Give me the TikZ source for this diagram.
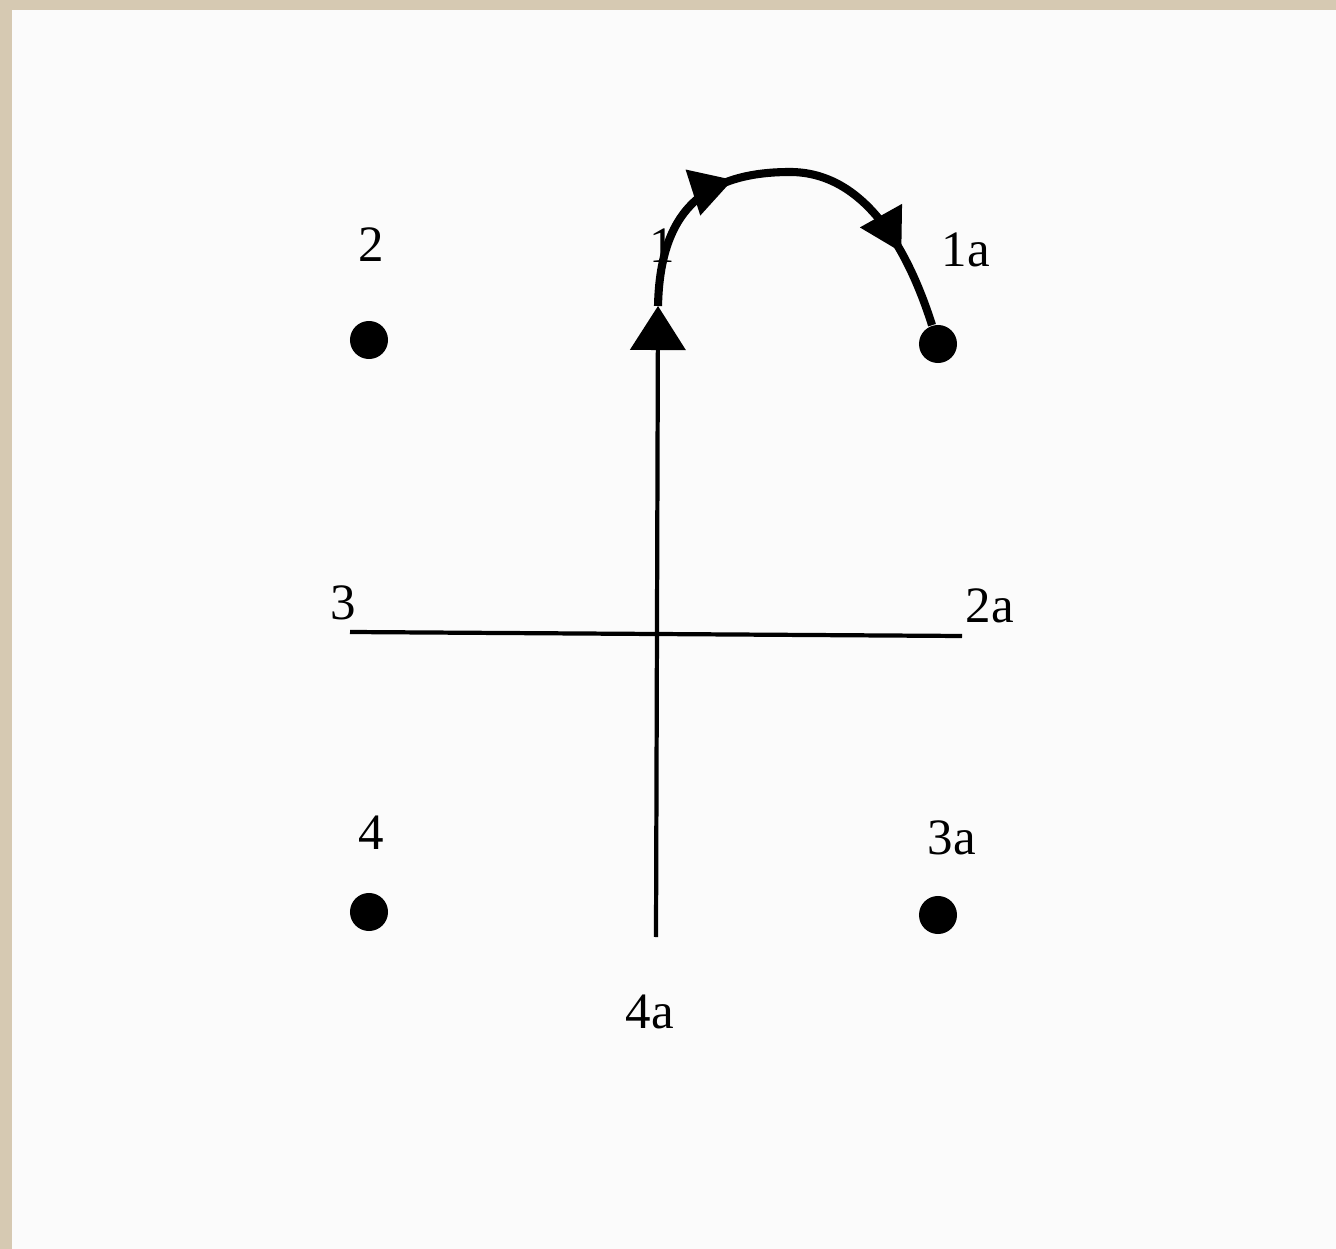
\documentclass[tikz,border=0pt]{standalone}
\usepackage{fontspec}
\setmainfont{Liberation Serif}
\usetikzlibrary{arrows.meta, decorations.markings}
\definecolor{Frame}{RGB}{214,201,178}
\definecolor{Paper}{RGB}{251,251,251}

\begin{document}
\begin{tikzpicture}[
  x=0.01cm, y=-0.01cm,
  dot/.style={circle, fill=black, inner sep=0pt, minimum size=0.38cm},
  lbl/.style={font=\fontsize{14.5}{16}\selectfont, inner sep=0pt},
  axis/.style={line width=1.2pt, black},
  tip/.style={-{Triangle[length=0.44cm,width=0.55cm]}},
  swing/.style={
    line width=2.3pt, postaction={decorate},
    decoration={markings,
      mark=at position 0.36 with {\arrow{Triangle[length=0.42cm,width=0.46cm]}},
      mark=at position 0.82 with {\arrow{Triangle[length=0.42cm,width=0.46cm]}}}
  }
]

%% ── Frame and paper ─────────────────────────────────────────────────────────
\useasboundingbox (0,0) rectangle (1336,1249);
\fill[Frame] (0,0) rectangle (1336,1249);
\fill[Paper] (12,10) rectangle (1336,1249);

%% ── Dots ────────────────────────────────────────────────────────────────────
\node[dot] (d2)  at (369,340) {};
\node[dot] (d1a) at (938,344) {};
\node[dot] (d4)  at (369,912) {};
\node[dot] (d3a) at (938,915) {};

%% ── Labels ──────────────────────────────────────────────────────────────────
\node[lbl] (l2)  at (371,245)  {2};
\node[lbl] (l1)  at (662,246)  {1};
\node[lbl] (l1a) at (966,250)  {1a};
\node[lbl] (l3)  at (343,603)  {3};
\node[lbl] (l2a) at (990,606)  {2a};
\node[lbl] (l4)  at (371,833)  {4};
\node[lbl] (l3a) at (952,838)  {3a};
\node[lbl] (l4a) at (650,1012) {4a};

%% ── Axes ────────────────────────────────────────────────────────────────────
\coordinate (west)  at (350,632);
\coordinate (east)  at (962,636);
\coordinate (south) at (656,937);
\coordinate (p1)    at (658,306);

\draw[axis]      (west)  -- (east);
\draw[axis, tip] (south) -- (p1);

%% ── Swing from 1 to 1a ──────────────────────────────────────────────────────
\draw[swing] (p1) .. controls (660,215) and (700,172) .. (790,172)
                  .. controls (860,172) and (905,240) .. (d1a);

\end{tikzpicture}
\end{document}
